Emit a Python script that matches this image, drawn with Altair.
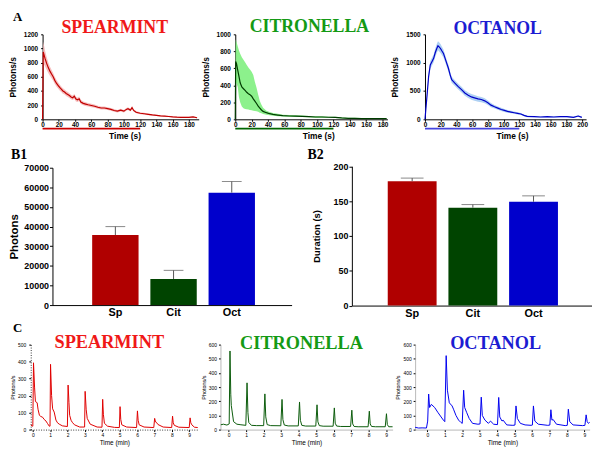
import altair as alt
import pandas as pd

# ---------------- Panel A: mean responses (photons/s) ----------------
sp_t = [0, 0.8, 3, 5, 7, 9, 11, 13, 15, 17, 19, 21, 23, 25, 27, 29, 31, 33, 35, 37,
        39, 41, 43, 45, 47, 50, 53, 56, 60, 64, 68, 72, 76, 80, 84, 88, 92, 96, 100, 103,
        105, 108, 110, 112, 115, 120, 125, 130, 135, 140, 145, 150, 155, 160, 165, 170, 175, 180, 185, 190]
sp_mean = [0, 950, 860, 790, 730, 680, 640, 600, 550, 510, 480, 450, 425, 400, 385, 365, 350, 335, 315, 305,
           325, 285, 275, 290, 245, 225, 215, 205, 195, 185, 170, 160, 160, 150, 140, 125, 115, 130, 115, 140,
           150, 130, 165, 125, 100, 85, 78, 70, 62, 56, 48, 44, 40, 34, 30, 28, 27, 28, 33, 22]
sp_sem = [0, 150, 110, 90, 75, 65, 60, 55, 50, 48, 45, 42, 40, 38, 36, 35, 34, 33, 32, 32,
          34, 32, 30, 32, 30, 28, 26, 25, 24, 23, 22, 21, 21, 20, 20, 19, 18, 19, 18, 20,
          20, 18, 20, 18, 16, 14, 13, 12, 11, 10, 10, 9, 9, 8, 8, 8, 8, 8, 8, 7]

cit_t = [0, 0.5, 1.5, 3, 4.5, 6, 8, 10, 12, 14, 16, 18, 20, 22, 24, 26, 28, 30, 32, 34,
         38, 42, 46, 52, 58, 66, 74, 82, 90, 98, 106, 114, 122, 130, 138, 146, 154, 162, 170, 178,
         185]
cit_mean = [0, 680, 655, 580, 505, 430, 380, 360, 340, 318, 302, 290, 272, 240, 213, 186, 155, 132, 110, 93,
            78, 66, 58, 50, 43, 39, 38, 35, 31, 27, 27, 24, 23, 16, 12, 12, 9, 9, 8, 8,
            8]
cit_hi = [0, 940, 910, 860, 810, 770, 730, 700, 670, 640, 610, 585, 560, 520, 440, 370, 290, 215, 170, 135,
          100, 85, 75, 64, 55, 50, 48, 44, 40, 36, 35, 31, 30, 22, 18, 17, 14, 14, 13, 12,
          12]
cit_lo = [0, 430, 420, 380, 260, 200, 150, 130, 122, 118, 114, 110, 106, 102, 98, 94, 88, 78, 70, 62,
          55, 48, 42, 37, 32, 29, 28, 26, 23, 19, 19, 17, 16, 10, 7, 7, 5, 4, 4, 4,
          4]

oct_t = [0, 2.5, 4.6, 6.7, 8.8, 11, 13, 15, 16.5, 18, 19.7, 21.4, 23.5, 25.6, 27.7, 29.8, 32, 34, 38, 42,
         46.5, 50.7, 55, 59, 63, 67.5, 71.7, 76, 80, 84, 88.5, 92.7, 97, 101, 105, 109.4, 113.6, 117.8, 122, 126,
         130, 139, 147, 155.6, 164, 172, 180.7, 189, 195, 199.6]
oct_mean = [0, 407, 756, 959, 1017, 1076, 1174, 1250, 1297, 1279, 1250, 1209, 1163, 1076, 988, 901, 785, 698, 640, 581,
            523, 465, 424, 395, 378, 360, 349, 326, 291, 250, 221, 198, 174, 157, 140, 128, 116, 105, 93, 70,
            52, 47, 41, 47, 41, 47, 47, 35, 58, 35]
oct_sem = [0, 40, 60, 70, 70, 70, 75, 80, 80, 80, 80, 75, 70, 65, 60, 60, 55, 55, 50, 50,
           50, 50, 50, 50, 50, 48, 46, 44, 40, 36, 32, 30, 28, 26, 24, 22, 20, 20, 18, 16,
           14, 12, 10, 10, 10, 10, 10, 10, 12, 10]

# ---------------- Panel B: totals ----------------
odors = ["Sp", "Cit", "Oct"]
bar_colors = ["#B00000", "#004400", "#0000CC"]
photons = [35700, 13300, 57300]
photons_err = [4300, 4400, 5700]
duration = [178.5, 140.5, 149.0]
duration_err = [4.5, 4.5, 8.5]

# ---------------- Panel C: repeated stimulation ----------------
csp_t = [-0.12, -0.02, 0.0, 0.04, 0.1, 0.15, 0.25, 0.3, 0.38, 0.45, 0.57, 0.65, 0.76, 0.85, 0.95,
         0.99, 1.02, 1.08, 1.14, 1.23, 1.33, 1.42, 1.52, 1.7,
         1.99, 2.03, 2.08, 2.12, 2.2, 2.27, 2.4, 2.7,
         2.98, 3.01, 3.07, 3.13, 3.3, 3.7,
         3.98, 4.02, 4.06, 4.12, 4.3, 4.7,
         4.98, 5.02, 5.06, 5.12, 5.4,
         5.97, 6.02, 6.06, 6.12, 6.4,
         6.96, 7.01, 7.06, 7.11, 7.2, 7.5,
         7.99, 8.04, 8.08, 8.14, 8.4,
         9.0, 9.05, 9.09, 9.15, 9.3, 9.49]
csp_v = [28, 20, 20, 393, 250, 165, 158, 120, 84, 78, 72, 60, 50, 35, 20,
         20, 384, 200, 122, 103, 56, 40, 32, 22,
         18, 262, 160, 84, 55, 43, 28, 15,
         15, 225, 120, 66, 32, 15,
         14, 178, 90, 37, 20, 13,
         12, 135, 60, 28, 15,
         12, 110, 55, 28, 15,
         12, 66, 45, 43, 30, 15,
         12, 79, 40, 25, 14,
         12, 69, 40, 28, 14, 12]

ccit_t = [-0.45, -0.3, -0.1, 0.03, 0.075, 0.12, 0.15, 0.28, 0.47, 0.7,
          0.98, 1.05, 1.1, 1.15, 1.3, 1.6,
          2.0, 2.07, 2.12, 2.2, 2.4,
          2.98, 3.05, 3.1, 3.18, 3.4,
          3.98, 4.05, 4.1, 4.18, 4.4,
          4.98, 5.05, 5.1, 5.18, 5.4,
          5.97, 6.04, 6.09, 6.17, 6.4,
          6.97, 7.04, 7.09, 7.17, 7.4,
          7.97, 8.04, 8.09, 8.17, 8.4,
          8.95, 9.02, 9.07, 9.15, 9.37]
ccit_v = [34, 38, 32, 40, 555, 250, 169, 56, 38, 34,
          30, 330, 120, 50, 30, 28,
          28, 252, 90, 35, 28,
          27, 213, 70, 32, 26,
          26, 195, 65, 30, 25,
          25, 175, 55, 28, 24,
          24, 153, 45, 25, 22,
          22, 137, 40, 22, 20,
          20, 130, 40, 22, 20,
          20, 112, 35, 20, 20]

coct_t = [-0.7, -0.5, -0.3, -0.05, 0.02, 0.075, 0.13, 0.23, 0.42, 0.6, 0.79, 0.92, 1.0,
          1.08, 1.15, 1.26, 1.42, 1.5, 1.64, 1.79, 1.92, 2.0,
          2.08, 2.14, 2.25, 2.4, 2.59, 2.9, 3.02,
          3.09, 3.15, 3.3, 3.5, 3.62, 3.8, 4.02,
          4.09, 4.15, 4.28, 4.34, 4.55, 4.9, 5.02,
          5.08, 5.16, 5.33, 5.6, 5.95, 6.02,
          6.08, 6.16, 6.36, 6.9, 7.02,
          7.08, 7.14, 7.21, 7.4, 7.9, 8.02,
          8.08, 8.16, 8.35, 8.9, 9.03,
          9.1, 9.16, 9.23, 9.3]
coct_v = [16, 11, 12, 11, 60, 251, 156, 178, 156, 122, 89, 67, 56,
          522, 278, 189, 167, 144, 100, 67, 51, 44,
          278, 156, 122, 78, 44, 38, 40,
          229, 100, 67, 44, 60, 38, 35,
          227, 89, 60, 67, 33, 30, 32,
          167, 78, 44, 33, 30, 32,
          167, 60, 38, 30, 32,
          140, 67, 71, 38, 28, 30,
          144, 56, 33, 28, 30,
          104, 56, 44, 51]

SANS = "Liberation Sans"
SERIF = "Liberation Serif"
WT, HT = 588, 440          # one canvas; every panel gets its own pixel ranges
one = pd.DataFrame({"k": [0]})


def axis_kw(font_lab, font_tit, bold=True, **extra):
    kw = dict(labelFont=SANS, labelFontSize=font_lab, titleFont=SANS, titleFontSize=font_tit,
              labelColor="black", titleColor="black", domainColor="black", tickColor="black",
              grid=False, labelFlush=False, labelOverlap=False, minExtent=0)
    w = "bold" if bold else "normal"
    kw.update(labelFontWeight=w, titleFontWeight=w)
    kw.update(extra)
    return kw


def xaxis(bottom, **kw):
    return alt.Axis(orient="bottom", offset=bottom - HT, **kw)


def yaxis(left, **kw):
    return alt.Axis(orient="left", offset=-left, **kw)


def sc(dom, rng):
    return alt.Scale(domain=dom, range=rng, nice=False, zero=False)


def label(txt, x, y, size, color, align="center"):
    return alt.Chart(one).mark_text(
        text=txt, font=SERIF, fontSize=size, fontWeight="bold", color=color,
        align=align, baseline="alphabetic").encode(x=alt.value(x), y=alt.value(y))


def panel_a(t, mean, lo, hi, xdom, xr, ydom, yr, xticks, yticks, line_c, band_c, stim_c, tx):
    df = pd.DataFrame({"t": t, "m": mean, "lo": lo, "hi": hi})
    xs, ys = sc(xdom, xr), sc(ydom, yr)
    xax = xaxis(yr[0], values=xticks, title="Time (s)", titleX=tx, tickSize=2, labelPadding=0,
                titlePadding=4, format="d", **axis_kw(6.5, 8.5))
    yax = yaxis(xr[0], values=yticks, title="Photons/s", tickSize=2, labelPadding=3,
                titlePadding=6, format="d", **axis_kw(6.5, 8.5))
    band = alt.Chart(df).mark_area(color=band_c, opacity=0.9).encode(
        x=alt.X("t:Q", scale=xs, axis=None), y=alt.Y("lo:Q", scale=ys, axis=None), y2="hi:Q")
    line = alt.Chart(df).mark_line(color=line_c, strokeWidth=1.2).encode(
        x=alt.X("t:Q", scale=xs, axis=xax), y=alt.Y("m:Q", scale=ys, axis=yax))
    stim = alt.Chart(pd.DataFrame({"t": [0], "t2": [120]})).mark_rule(
        color=stim_c, strokeWidth=1.8).encode(
        x=alt.X("t:Q", scale=xs, axis=None), x2="t2:Q", y=alt.value(yr[0] + 9.5))
    return [band, line, stim]


def panel_b(vals, errs, ydom, yr, xr, p_in, p_out, al, ytitle, ystep, tfont, tpad, cap):
    df = pd.DataFrame({"odor": odors, "v": vals, "top": [v + e for v, e in zip(vals, errs)],
                       "col": bar_colors})
    xs = alt.Scale(domain=odors, range=xr, paddingInner=p_in, paddingOuter=p_out, align=al)
    ys = sc(ydom, yr)
    xax = xaxis(yr[0], title=None, labelAngle=0, ticks=False, labelPadding=2, **axis_kw(11, 11))
    yax = yaxis(xr[0], values=list(range(0, ydom[1] + 1, ystep)), title=ytitle, format="d",
                tickSize=3, labelPadding=1, titlePadding=tpad, **axis_kw(9, tfont))
    bars = alt.Chart(df).mark_bar().encode(
        x=alt.X("odor:N", scale=xs, axis=xax), y=alt.Y("v:Q", scale=ys, axis=yax),
        color=alt.Color("col:N", scale=None, legend=None))
    err = alt.Chart(df).mark_rule(color="#555555", strokeWidth=1).encode(
        x=alt.X("odor:N", scale=xs, axis=None), y=alt.Y("v:Q", scale=ys, axis=None), y2="top:Q")
    caps = alt.Chart(df).mark_tick(color="#555555", orient="horizontal", size=cap, thickness=1).encode(
        x=alt.X("odor:N", scale=xs, axis=None), y=alt.Y("top:Q", scale=ys, axis=None))
    return [bars, err, caps]


def panel_c(t, v, xdom, xr, ydom, yr, color, dotted, lpad):
    df = pd.DataFrame({"t": t, "v": v})
    dom = dict(domainDash=[1, 1.5], domainColor="black", domainWidth=0.8) if dotted else \
        dict(domainColor="#888888", domainWidth=0.6)
    xax = xaxis(yr[0], values=list(range(10)), title="Time (min)", tickSize=2, labelPadding=1,
                titlePadding=2, format="d", **axis_kw(5, 6.5, bold=False, **dom))
    yax = yaxis(xr[0], values=list(range(0, ydom[1] + 1, 100)), title="Photons/s", tickSize=2,
                labelPadding=lpad, titlePadding=2, format="d", **axis_kw(5, 5.5, bold=False, **dom))
    line = alt.Chart(df).mark_line(color=color, strokeWidth=1).encode(
        x=alt.X("t:Q", scale=sc(xdom, xr), axis=xax), y=alt.Y("v:Q", scale=sc(ydom, yr), axis=yax))
    return [line]


sp_lo = [m - s for m, s in zip(sp_mean, sp_sem)]
sp_hi = [m + s for m, s in zip(sp_mean, sp_sem)]
oc_lo = [m - s for m, s in zip(oct_mean, oct_sem)]
oc_hi = [m + s for m, s in zip(oct_mean, oct_sem)]

YA = [110, 24]
YC = [424, 338]
layers = []
layers += panel_a(sp_t, sp_mean, sp_lo, sp_hi, [0, 192], [32, 190], [0, 1200], YA,
                  list(range(0, 181, 20)), list(range(0, 1201, 200)),
                  "#C00000", "#F6B8B8", "#CC0000", 115)
layers += panel_a(cit_t, cit_mean, cit_lo, cit_hi, [0, 186], [227, 381], [0, 1000], YA,
                  list(range(0, 181, 20)), list(range(0, 1001, 200)),
                  "#003C00", "#80F080", "#006600", 311)
layers += panel_a(oct_t, oct_mean, oc_lo, oc_hi, [0, 205], [419, 582], [0, 1500], YA,
                  list(range(0, 201, 20)), [0, 500, 1000, 1500],
                  "#0000C8", "#A6CCF2", "#4545DD", 507)
layers += panel_b(photons, photons_err, [0, 70000], [298, 159], [42, 284], 0.203, 0.656, 0.52,
                  "Photons", 10000, 11.5, 4, 20)
layers += panel_b(duration, duration_err, [0, 200], [298.5, 157.5], [345, 588], 0.195, 0.576, 0.513,
                  "Duration (s)", 50, 9.5, 12, 23)
layers += panel_c(csp_t, csp_v, [-0.12, 9.5], [20, 189.2], [0, 500], YC, "#E00000", True, 3)
layers += panel_c(ccit_t, ccit_v, [-0.47, 9.37], [212, 386.2], [0, 600], YC, "#0A5A0A", False, 2)
layers += panel_c(coct_t, coct_v, [-0.7, 9.3], [409, 585.6], [0, 600], YC, "#0000F0", False, 2)

layers += [
    label("A", 2, 10.5, 13, "black", align="left"),
    label("SPEARMINT", 105, 22.5, 18, "#F01818"),
    label("CITRONELLA", 302, 21.5, 18, "#149A14"),
    label("OCTANOL", 492.5, 23.5, 18, "#1C1CD2"),
    label("B1", 0, 150, 14, "black", align="left"),
    label("B2", 300, 150, 14, "black", align="left"),
    label("C", 2, 325, 13, "black", align="left"),
    label("SPEARMINT", 99.5, 341.5, 18.5, "#F01818"),
    label("CITRONELLA", 294, 342, 18.5, "#149A14"),
    label("OCTANOL", 490.5, 342, 18.5, "#1C1CD2"),
]

chart = alt.layer(*layers).resolve_scale(x="independent", y="independent").resolve_axis(
    x="independent", y="independent").properties(width=WT, height=HT, padding=0).configure_view(
    stroke="transparent")

chart.save("out.html", embed_options={"renderer": "svg", "actions": False})
